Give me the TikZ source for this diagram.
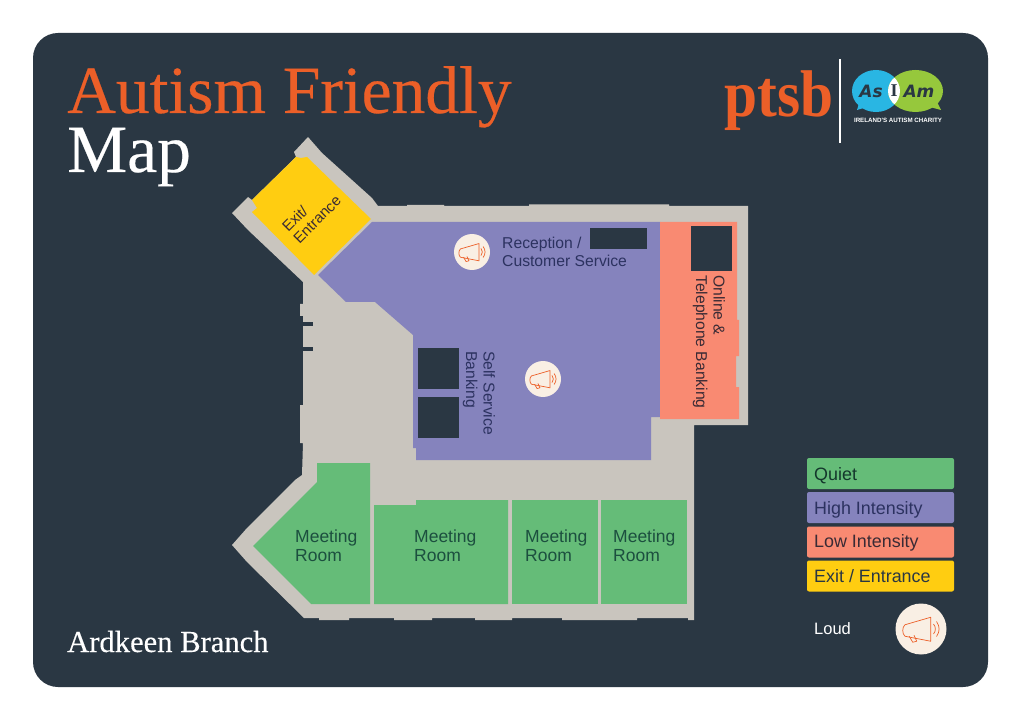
\documentclass[tikz,border=0pt]{standalone}
\usepackage{fontspec}
\setmainfont{Liberation Serif}
\newfontfamily\titlefont[FakeBold=.3]{Liberation Serif}
\newfontfamily\labelfont{Liberation Sans}
\newfontfamily\logofont{Liberation Serif}
\newfontfamily\chatfont{DejaVu Sans}
\definecolor{board}{HTML}{2A3743}
\definecolor{wall}{HTML}{C9C5BE}
\definecolor{busy}{HTML}{8583BD}
\definecolor{calm}{HTML}{65BC78}
\definecolor{low}{HTML}{F98A72}
\definecolor{door}{HTML}{FFCD11}
\definecolor{flame}{HTML}{EC5F28}
\definecolor{cream}{HTML}{F9EFE4}
\definecolor{calmtext}{HTML}{1C4F3F}
\definecolor{busytext}{HTML}{2C3260}
\definecolor{lowtext}{HTML}{3A2B35}
\definecolor{bubbleblue}{HTML}{29B6E3}
\definecolor{bubblegreen}{HTML}{96C83C}
\tikzset{
  labeltext/.style={font=\labelfont\fontsize{15.7}{17.5}\selectfont, align=left, inner sep=0pt},
  meettext/.style={font=\labelfont\fontsize{17.5}{19}\selectfont, align=left, inner sep=0pt, anchor=west, text=calmtext},
  keybox/.style={rounded corners=2pt, minimum width=147pt, minimum height=31pt, inner sep=0pt, outer sep=0pt},
  keytext/.style={font=\labelfont\fontsize{17.9}{18}\selectfont, inner sep=0pt, anchor=base west},
  hornspot/.style={circle, fill=cream, inner sep=0pt, outer sep=0pt},
  pics/horn/.style={code={
    \draw [flame, line width=.7pt, line join=round]
      (-.64,-.17) -- (.39,-.47) -- (.39,.49) -- (-.64,.29) .. controls (-.76,.2) and (-.76,-.08) .. cycle;
    \draw [flame, line width=.7pt, line join=round] (-.47,.29) -- (-.33,.53) -- (-.17,.49) -- (-.28,.25);
    \draw [flame, line width=.7pt] (.5,-.2) .. controls (.6,-.08) and (.6,.08) .. (.5,.2);
    \draw [flame, line width=.7pt] (.62,-.3) .. controls (.76,-.1) and (.76,.1) .. (.62,.3);
  }}
}

\begin{document}
\begin{tikzpicture}[x=1pt,y=-1pt]
\useasboundingbox (0,0) rectangle (1021,722);
\fill [white] (0,0) rectangle (1021,722);
\fill [board, rounded corners=25pt] (33,33) rectangle (988,687);

% titles
\node (title) [anchor=base west, inner sep=0pt, text=flame, font=\titlefont\fontsize{67.5}{68}\selectfont] at (67,113) {Autism Friendly};
\node (mapname) [anchor=base west, inner sep=0pt, text=white, font=\titlefont\fontsize{67.5}{68}\selectfont] at (67,172) {Map};
\node (branch) [anchor=base west, inner sep=0pt, text=white, font=\titlefont\fontsize{30.6}{31}\selectfont] at (67,652) {Ardkeen Branch};

% logos
\node (ptsb) [anchor=base west, inner sep=0pt, text=flame, font=\logofont\bfseries\fontsize{66}{66}\selectfont] at (724,117) {\scalebox{.9}[1]{ptsb}};
\coordinate (rulea) at (840,59);
\coordinate (ruleb) at (840,143);
\draw [white, line width=1.3pt] (rulea) -- (ruleb);
\fill [bubbleblue] (876,91) ellipse (24 and 21);
\fill [bubbleblue] (860,100) -- (857,110) -- (870,106) -- cycle;
\fill [bubblegreen] (915.5,91) ellipse (27.5 and 21);
\fill [bubblegreen] (936,100) -- (941,110) -- (926,106) -- cycle;
\begin{scope}
\clip (876,91) ellipse (24 and 21);
\fill [white] (915.5,91) ellipse (27.5 and 21);
\end{scope}
\node (as) [inner sep=0pt, text=board, font=\chatfont\bfseries\itshape\fontsize{17}{17}\selectfont] at (871,91) {As};
\node (i) [inner sep=0pt, text=board, font=\logofont\bfseries\fontsize{18}{18}\selectfont] at (894,91) {I};
\node (am) [inner sep=0pt, text=board, font=\chatfont\bfseries\itshape\fontsize{17}{17}\selectfont] at (919,91) {Am};
\node (charity) [inner sep=0pt, text=white, font=\labelfont\bfseries\fontsize{6.2}{7}\selectfont] at (898,120) {IRELAND'S AUTISM CHARITY};

% walls
\fill [wall] (303,282) -- (248,230) -- (232,213) -- (248,197) -- (252,200) -- (296,157) -- (294,152) -- (308,137) -- (322,153) -- (372,198) -- (378,206)
  -- (407,206) -- (407,205) -- (444,205) -- (444,206) -- (529,206) -- (529,204.5) -- (669,204.5) -- (669,206) -- (748,206)
  -- (748,425) -- (694,425) -- (694,620) -- (688,620) -- (688,618) -- (637,618) -- (637,620) -- (562,620) -- (562,618)
  -- (512,618) -- (512,620) -- (475,620) -- (475,618) -- (432,618) -- (432,620) -- (394,620) -- (394,618) -- (349,618)
  -- (349,620) -- (319,620) -- (319,618) -- (304,618) -- (247,562) -- (232,545) -- (247,528) -- (295,480) -- (302,475)
  -- (303,443) -- (300,443) -- (300,405) -- (303,405) -- (303,316) -- (300,316) -- (300,304) -- (303,304) -- cycle;
\fill [board] (303,322) rectangle (313,326);
\fill [board] (303,347) rectangle (313,351);

% rooms
\fill [busy] (372,222) -- (660,222) -- (660,417) -- (651,417) -- (651,460) -- (416,460) -- (416,448) -- (413,448)
  -- (413,335) -- (375,302) -- (346,302) -- (318,275) -- cycle;
\fill [low] (660,222) -- (737,222) -- (737,320) -- (739,320) -- (739,356) -- (736,356) -- (736,387) -- (739,387)
  -- (739,419) -- (660,419) -- cycle;
\fill [door] (252,200) -- (296,157) -- (301,158) -- (307,157) -- (371,219) -- (314,275) -- (252,212) -- (257,208) -- cycle;
\fill [calm] (317,463) -- (370,463) -- (370,604) -- (311,604) -- (253,546) -- (317,482) -- cycle;
\fill [calm] (374,505) -- (416,505) -- (416,500) -- (508,500) -- (508,604) -- (374,604) -- cycle;
\fill [calm] (512,500) rectangle (598,604);
\fill [calm] (601,500) rectangle (687,604);

% covered parts
\fill [board] (691,226) rectangle (732,271);
\fill [board] (590,228) rectangle (647,249);
\fill [board] (418,348) rectangle (459,389);
\fill [board] (418,397) rectangle (459,438);

% room names
\node (recept) [labeltext, anchor=west, text=busytext] at (502,252) {Reception /\\Customer Service};
\node (selfserv) [labeltext, anchor=west, rotate=-90, text=busytext] at (479,351) {Self Service\\Banking};
\node (online) [labeltext, anchor=west, rotate=-90, text=lowtext] at (709,275) {Online \&\\Telephone Banking};
\node (exitname) [labeltext, anchor=west, rotate=45, text=lowtext, font=\labelfont\fontsize{15}{16}\selectfont] at (290,235) {Exit/\\Entrance};
\node (meeta) [meettext] at (295,546) {Meeting\\Room};
\node (meetb) [meettext] at (414,546) {Meeting\\Room};
\node (meetc) [meettext] at (525,546) {Meeting\\Room};
\node (meetd) [meettext] at (613,546) {Meeting\\Room};

% loud spots
\node (hornone) [hornspot, minimum size=36pt] at (472,252) {};
\pic [scale=18] at (hornone) {horn};
\node (horntwo) [hornspot, minimum size=36pt] at (543,379) {};
\pic [scale=18] at (horntwo) {horn};

% key
\node (keya) [keybox, fill=calm] at (880.5,473.5) {};
\node (keyb) [keybox, fill=busy] at (880.5,507.5) {};
\node (keyc) [keybox, fill=low] at (880.5,542) {};
\node (keyd) [keybox, fill=door] at (880.5,576) {};
\node (keyatext) [keytext, text=calmtext!70!black] at (814,480) {Quiet};
\node (keybtext) [keytext, text=busytext] at (814,514) {High Intensity};
\node (keyctext) [keytext, text=lowtext] at (814,547) {Low Intensity};
\node (keydtext) [keytext, text=board] at (814,582) {Exit / Entrance};
\node (loud) [keytext, text=white, font=\labelfont\fontsize{16.5}{18}\selectfont] at (814,634) {Loud};
\node (hornkey) [hornspot, minimum size=51pt] at (921,629) {};
\pic [scale=25] at (hornkey) {horn};
\end{tikzpicture}
\end{document}
